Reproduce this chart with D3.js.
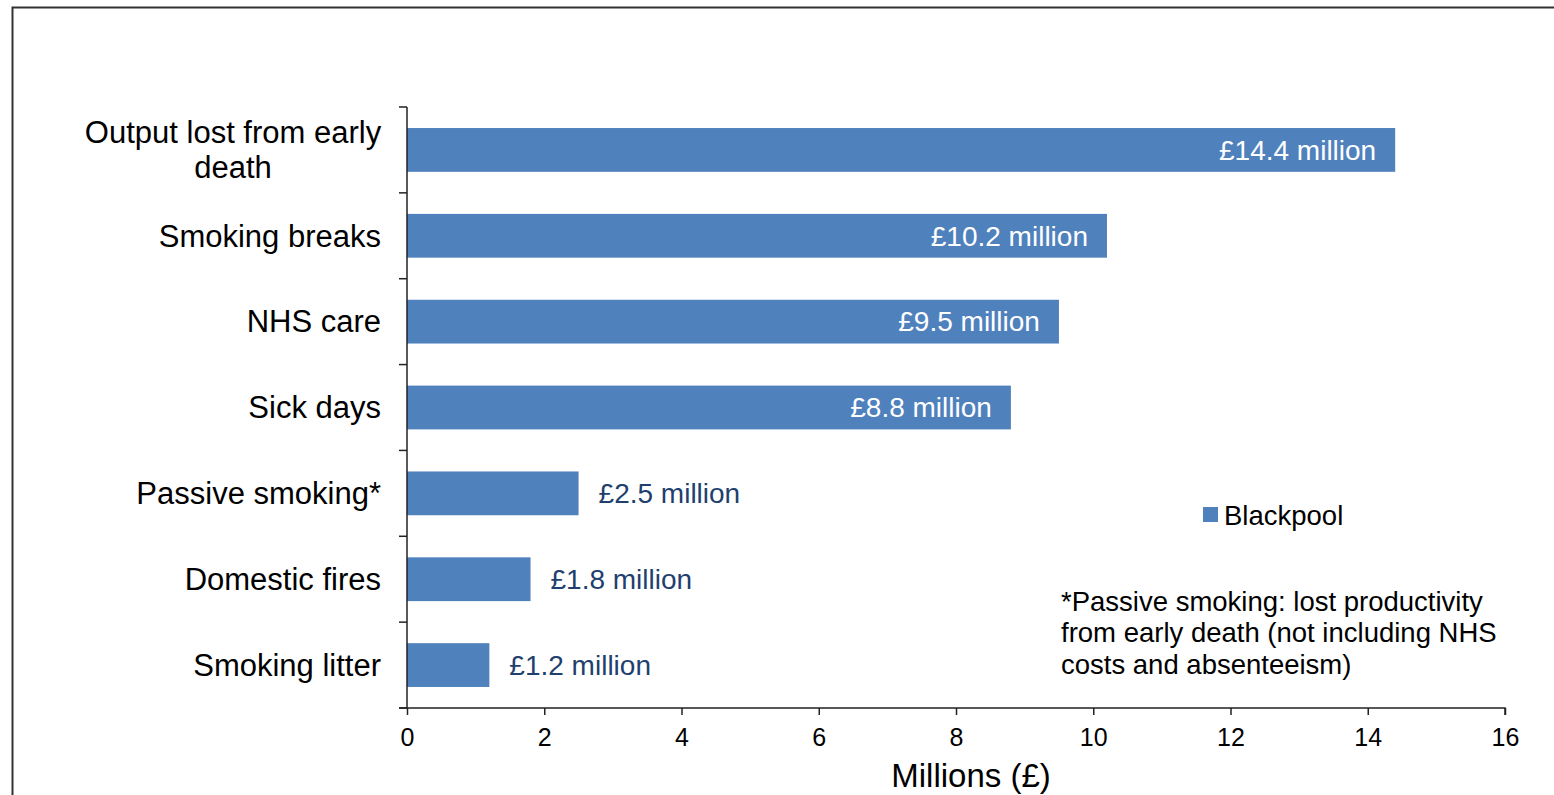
<!DOCTYPE html>
<html><head><meta charset="utf-8">
<script src="https://cdn.jsdelivr.net/npm/d3@7"></script>
<style>body{margin:0;background:#fff;} svg{display:block;font-family:Arial, "Liberation Sans", sans-serif;}</style>
</head><body>
<svg id="c" width="1554" height="795"></svg>
<script>
const categories = [
  ["Output lost from early", "death"],
  ["Smoking breaks"],
  ["NHS care"],
  ["Sick days"],
  ["Passive smoking*"],
  ["Domestic fires"],
  ["Smoking litter"]
];
const values = [14.4, 10.2, 9.5, 8.8, 2.5, 1.8, 1.2];
const valueLabels = ["£14.4 million", "£10.2 million", "£9.5 million", "£8.8 million", "£2.5 million", "£1.8 million", "£1.2 million"];
const xTicks = [0, 2, 4, 6, 8, 10, 12, 14, 16];
const seriesName = "Blackpool";
const footnote = ["*Passive smoking: lost productivity", "from early death (not including NHS", "costs and absenteeism)"];
const axisTitle = "Millions (£)";

(function () {
const svg = d3.select("#c");
const barColor = "#4f81bd";
const pL = 407, pR = 1505, pT = 107, pB = 708;

// frame
svg.append("path").attr("d", "M12.5,795 V7.5 H1554").attr("fill", "none").attr("stroke", "#333").attr("stroke-width", 2);

const x = d3.scaleLinear().domain([0, 16]).range([pL, pR]);
const idx = d3.range(categories.length);
const y = d3.scaleBand().domain(idx).range([pT, pB]).paddingInner(0.49).paddingOuter(0.245);
const yb = d3.scaleBand().domain(idx).range([pT, pB]);

// bars
svg.selectAll("rect.bar").data(idx).join("rect").attr("class", "bar")
  .attr("x", x(0)).attr("y", i => y(i)).attr("width", i => x(values[i]) - x(0))
  .attr("height", y.bandwidth()).attr("fill", barColor);

// value labels
svg.selectAll("text.val").data(idx).join("text").attr("class", "val")
  .attr("x", i => values[i] > 5 ? x(values[i]) - 19 : x(values[i]) + 20)
  .attr("y", i => y(i) + y.bandwidth() / 2)
  .attr("dy", "0.35em")
  .attr("text-anchor", i => values[i] > 5 ? "end" : "start")
  .attr("fill", i => values[i] > 5 ? "#fff" : "#1f3f6e")
  .attr("font-size", 28)
  .text(i => valueLabels[i]);

// y axis
const yAxisG = svg.append("g");
yAxisG.append("line").attr("x1", pL).attr("x2", pL).attr("y1", pT).attr("y2", pB).attr("stroke", "#222").attr("stroke-width", 1.5);
const bounds = d3.range(categories.length + 1).map(i => i < categories.length ? yb(i) : pB);
yAxisG.selectAll("line.tk").data(bounds).join("line").attr("class", "tk")
  .attr("x1", pL - 8).attr("x2", pL).attr("y1", d => d).attr("y2", d => d)
  .attr("stroke", "#222").attr("stroke-width", 1.5);

// category labels
idx.forEach(i => {
  const lines = categories[i];
  const cy = y(i) + y.bandwidth() / 2;
  const lh = 35;
  const t = svg.append("text").attr("font-size", 31).attr("fill", "#000").attr("text-anchor", lines.length > 1 ? "middle" : "end");
  lines.forEach((l, k) => {
    t.append("tspan").attr("x", lines.length > 1 ? 233 : 381)
      .attr("y", cy + (k - (lines.length - 1) / 2) * lh).attr("dy", "0.35em").text(l);
  });
});

// x axis
const xAxis = d3.axisBottom(x).tickValues(xTicks).tickSize(7).tickFormat(d3.format("d"));
const xg = svg.append("g").attr("transform", `translate(0,${pB})`).call(xAxis);
xg.select(".domain").attr("stroke", "#222").attr("stroke-width", 1.5).attr("d", `M${pL - 8},0H${pR}V7`);
xg.selectAll(".tick line").attr("stroke", "#222").attr("stroke-width", 1.5);
xg.selectAll(".tick text").attr("font-size", 25).attr("fill", "#000").attr("y", 0).attr("dy", 0)
  .attr("transform", "translate(0,38)").attr("font-family", "Arial, 'Liberation Sans', sans-serif");

svg.append("text").attr("x", 971).attr("y", 787).attr("text-anchor", "middle")
  .attr("font-size", 33).attr("fill", "#000").text(axisTitle);

// legend
svg.append("rect").attr("x", 1203).attr("y", 507).attr("width", 15).attr("height", 15).attr("fill", barColor);
svg.append("text").attr("x", 1224).attr("y", 515).attr("dy", "0.35em").attr("font-size", 27.5).attr("fill", "#000").text(seriesName);

// footnote
const fn = svg.append("text").attr("font-size", 27.5).attr("fill", "#000");
footnote.forEach((l, k) => fn.append("tspan").attr("x", 1061).attr("y", 601 + k * 31.5).attr("dy", "0.35em").text(l));
})();
</script>
</body></html>
